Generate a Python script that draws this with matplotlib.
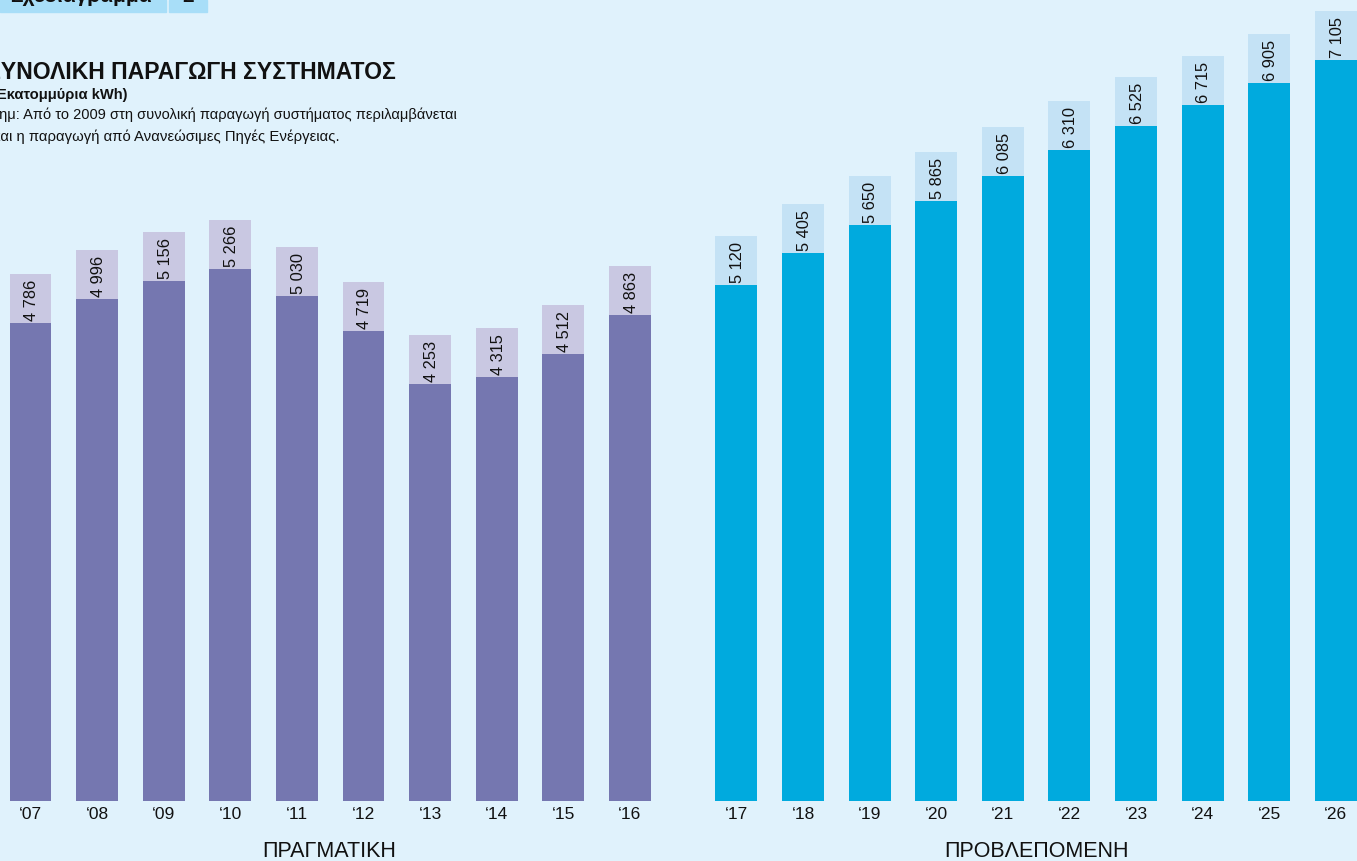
import matplotlib
matplotlib.use("Agg")
import matplotlib.pyplot as plt
from matplotlib.patches import Rectangle

# ---- data ----
years_actual = ["‘07", "‘08", "‘09", "‘10", "‘11", "‘12", "‘13", "‘14", "‘15", "‘16"]
values_actual = [4786, 4996, 5156, 5266, 5030, 4719, 4253, 4315, 4512, 4863]
years_forecast = ["‘17", "‘18", "‘19", "‘20", "‘21", "‘22", "‘23", "‘24", "‘25", "‘26"]
values_forecast = [5120, 5405, 5650, 5865, 6085, 6310, 6525, 6715, 6905, 7105]

title = "ΣΥΝΟΛΙΚΗ ΠΑΡΑΓΩΓΗ ΣΥΣΤΗΜΑΤΟΣ"
subtitle = "(Εκατομμύρια kWh)"
note1 = "Σημ: Από το 2009 στη συνολική παραγωγή συστήματος περιλαμβάνεται"
note2 = "και η παραγωγή από Ανανεώσιμες Πηγές Ενέργειας."
group_actual = "ΠΡΑΓΜΑΤΙΚΗ"
group_forecast = "ΠΡΟΒΛΕΠΟΜΕΝΗ"
tab_text = "Σχεδιάγραμμα"
tab_num = "2"

# ---- style ----
BG = "#E0F2FC"
PURPLE = "#7577B0"
PURPLE_CAP = "#C9C8E2"
BLUE = "#00AADE"
BLUE_CAP = "#C4E2F5"
TAB = "#A8DEF8"
SANS = ["Liberation Sans", "DejaVu Sans"]

W, H = 1357, 861
fig = plt.figure(figsize=(W / 100, H / 100), dpi=100, facecolor=BG)

ax = fig.add_axes([0, (H - 801) / H, 1, 801 / H])
ax.set_facecolor(BG)
for s in ax.spines.values():
    s.set_visible(False)

pitch = 66.6
x0 = 30.5
xa = list(range(len(values_actual)))
xf = [i + len(values_actual) + 0.6 for i in range(len(values_forecast))]
ax.set_xlim(-x0 / pitch, (W - x0) / pitch)
scale = 0.1134
base_px = 866
ax.set_ylim((base_px - 801) / scale, base_px / scale)
cap = 49 / scale
bw = 0.63

for xs, vals, c, cc in [(xa, values_actual, PURPLE, PURPLE_CAP),
                        (xf, values_forecast, BLUE, BLUE_CAP)]:
    ax.bar(xs, vals, width=bw, color=c, zorder=2)
    ax.bar(xs, [cap] * len(vals), bottom=vals, width=bw, color=cc, zorder=2)
    for x, v in zip(xs, vals):
        lab = f"{v:,}".replace(",", " ")
        ax.text(x + 0.02, v + cap * 0.46, lab, rotation=90, ha="center", va="center",
                fontsize=11.8, family=SANS, color="#111111", zorder=3)

ax.set_xticks(xa + xf)
ax.set_xticklabels(years_actual + years_forecast, family=SANS, fontsize=12.5,
                   color="#111111")
ax.tick_params(axis="x", length=0, pad=4)
ax.set_yticks([])

# group labels
fig.text(329 / W, 1 - 857 / H, group_actual, ha="center", va="baseline",
         fontsize=15.5, family=SANS, color="#111111")
fig.text(1037 / W, 1 - 857 / H, group_forecast, ha="center", va="baseline",
         fontsize=15.5, family=SANS, color="#111111")

# tab at top-left
fig.patches.append(Rectangle((0, 1 - 12 / H), 166 / W, 12 / H, transform=fig.transFigure,
                             color=TAB, zorder=5))
fig.patches.append(Rectangle((169 / W, 1 - 12 / H), 38 / W, 12 / H, transform=fig.transFigure,
                             color=TAB, zorder=5))
fig.text(152 / W, 1 - 2 / H, tab_text, ha="right", va="baseline", fontsize=15,
         fontweight="bold", family=SANS, color="#111111", zorder=6)
fig.text(188 / W, 1 - 2 / H, tab_num, ha="center", va="baseline", fontsize=15,
         fontweight="bold", family=SANS, color="#111111", zorder=6)

# titles
fig.text(-13 / W, 1 - 79 / H, title, ha="left", va="baseline", fontsize=16.6,
         fontweight="bold", family=SANS, color="#111111")
fig.text(-8 / W, 1 - 99 / H, subtitle, ha="left", va="baseline", fontsize=10.6,
         fontweight="bold", family=SANS, color="#111111")
fig.text(-10 / W, 1 - 119 / H, note1, ha="left", va="baseline", fontsize=10.5,
         family=SANS, color="#111111")
fig.text(-7 / W, 1 - 141 / H, note2, ha="left", va="baseline", fontsize=10.7,
         family=SANS, color="#111111")

fig.savefig("out.png", dpi=100, facecolor=BG)
